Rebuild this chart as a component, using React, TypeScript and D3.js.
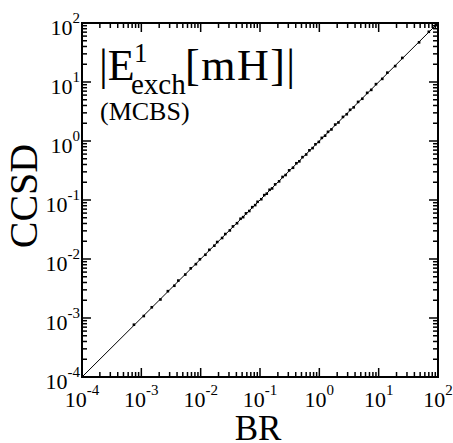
import React from "react";
import * as d3 from "d3";

const brValues = [0.00075, 0.0011, 0.0015, 0.0021, 0.0028, 0.0036, 0.0042, 0.0055, 0.0068, 0.0083, 0.0097, 0.012, 0.014, 0.017, 0.019, 0.023, 0.026, 0.031, 0.035, 0.041, 0.047, 0.052, 0.058, 0.066, 0.074, 0.083, 0.091, 0.105, 0.118, 0.13, 0.145, 0.16, 0.18, 0.21, 0.24, 0.27, 0.31, 0.36, 0.41, 0.46, 0.52, 0.6, 0.68, 0.77, 0.86, 0.98, 1.1, 1.25, 1.4, 1.6, 1.85, 2.1, 2.5, 2.9, 3.3, 3.8, 4.5, 5.3, 6.4, 7.5, 9.0, 11.5, 14, 19, 25, 48, 70];
const ccsdValues = [0.00077, 0.00108, 0.00152, 0.00206, 0.00285, 0.00352, 0.00431, 0.00545, 0.00695, 0.00818, 0.0099, 0.0118, 0.0143, 0.0168, 0.0194, 0.0227, 0.0265, 0.0305, 0.0357, 0.0404, 0.0481, 0.0512, 0.0594, 0.0651, 0.0756, 0.0819, 0.0932, 0.103, 0.121, 0.128, 0.149, 0.157, 0.184, 0.207, 0.246, 0.265, 0.318, 0.352, 0.42, 0.452, 0.533, 0.59, 0.695, 0.758, 0.88, 0.965, 1.13, 1.23, 1.43, 1.57, 1.9, 2.06, 2.56, 2.84, 3.38, 3.72, 4.6, 5.2, 6.55, 7.35, 9.2, 11.3, 14.4, 18.6, 25.6, 47, 71];
const tickExponents = [-4, -3, -2, -1, 0, 1, 2];
const xTitle = "BR";
const yTitle = "CCSD";

const W = 453;
const H = 443;
const L = 82, R = 438, T = 23, B = 377;
const FONT = "'Liberation Serif', 'Times New Roman', serif";

export default function App() {
  const x = d3.scaleLog().domain([1e-4, 1e2]).range([L, R]);
  const y = d3.scaleLog().domain([1e-4, 1e2]).range([B, T]);

  const minor: number[] = [];
  for (let e = -4; e < 2; e++) {
    for (let m = 2; m <= 9; m++) minor.push(m * Math.pow(10, e));
  }
  const major = tickExponents.map((e) => Math.pow(10, e));
  const MAJ = 9, MIN = 5;

  return (
    <svg width={W} height={H} style={{ position: "absolute", left: 0, top: 0, fontFamily: FONT }}>
      <rect x={0} y={0} width={W} height={H} fill="white" />
      {/* diagonal */}
      <line x1={x(1e-4)} y1={y(1e-4)} x2={x(1e2)} y2={y(1e2)} stroke="black" strokeWidth={1} />
      {/* points */}
      {brValues.map((v, i) => (
        <rect key={i} x={x(v) - 1.3} y={y(ccsdValues[i]) - 1.3} width={2.6} height={2.6} fill="black" />
      ))}
      {/* ticks */}
      {major.map((v, i) => (
        <g key={"M" + i}>
          <line x1={x(v)} x2={x(v)} y1={B} y2={B - MAJ} stroke="black" strokeWidth={1.5} />
          <line x1={x(v)} x2={x(v)} y1={T} y2={T + MAJ} stroke="black" strokeWidth={1.5} />
          <line y1={y(v)} y2={y(v)} x1={L} x2={L + MAJ} stroke="black" strokeWidth={1.5} />
          <line y1={y(v)} y2={y(v)} x1={R} x2={R - MAJ} stroke="black" strokeWidth={1.5} />
        </g>
      ))}
      {minor.map((v, i) => (
        <g key={"m" + i}>
          <line x1={x(v)} x2={x(v)} y1={B} y2={B - MIN} stroke="black" strokeWidth={1.5} />
          <line x1={x(v)} x2={x(v)} y1={T} y2={T + MIN} stroke="black" strokeWidth={1.5} />
          <line y1={y(v)} y2={y(v)} x1={L} x2={L + MIN} stroke="black" strokeWidth={1.5} />
          <line y1={y(v)} y2={y(v)} x1={R} x2={R - MIN} stroke="black" strokeWidth={1.5} />
        </g>
      ))}
      {/* frame */}
      <rect x={L} y={T} width={R - L} height={B - T} fill="none" stroke="black" strokeWidth={2} />
      {/* x tick labels */}
      {tickExponents.map((e, i) => (
        <text key={"xl" + i} x={x(Math.pow(10, e))} y={407} textAnchor="middle" fontSize={22}>
          10<tspan fontSize={15} dy={-12}>{e}</tspan>
        </text>
      ))}
      {/* y tick labels */}
      {tickExponents.map((e, i) => (
        <text key={"yl" + i} x={80} y={y(Math.pow(10, e)) + 12} textAnchor="end" fontSize={22}>
          10<tspan fontSize={15} dy={-12}>{e}</tspan>
        </text>
      ))}
      {/* axis titles */}
      <text x={258} y={440} textAnchor="middle" fontSize={35}>{xTitle}</text>
      <text transform={`translate(37,196) rotate(-90)`} textAnchor="middle" fontSize={40}>{yTitle}</text>
      {/* annotation */}
      <text x={99} y={80} fontSize={44}>|E</text>
      <text x={134} y={62} fontSize={27}>1</text>
      <text x={131} y={94} fontSize={29}>exch</text>
      <text x={185} y={80} fontSize={44} letterSpacing={1.5}>[mH]|</text>
      <text x={100} y={120} fontSize={26}>(MCBS)</text>
    </svg>
  );
}
